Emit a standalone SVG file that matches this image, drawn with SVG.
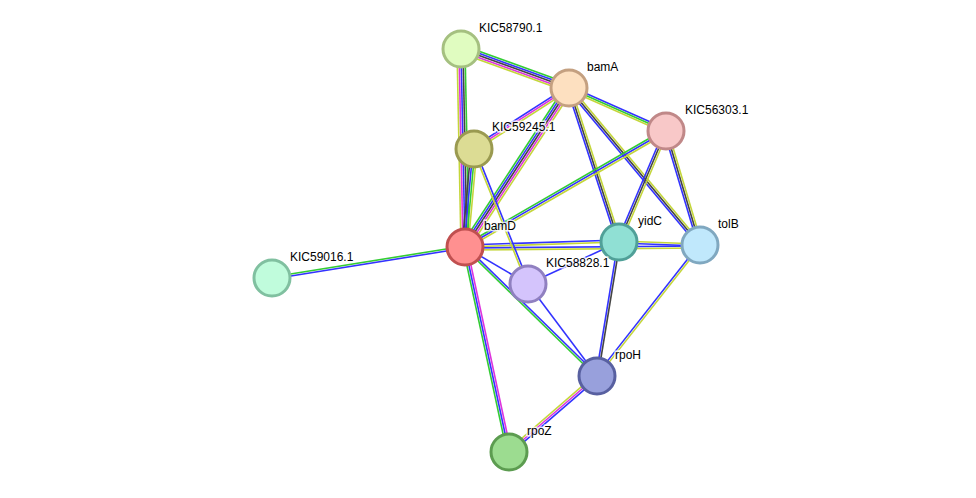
<svg xmlns="http://www.w3.org/2000/svg" width="976" height="498" viewBox="0 0 976 498">
<style>
line{stroke-width:1.6}
.g{stroke:#33cc33}.b{stroke:#3333ff}.k{stroke:#444}.m{stroke:#dd33dd}.y{stroke:#c4d63a}
circle{stroke-width:3}
text{font-family:"Liberation Sans",Arial,sans-serif;font-size:12px;fill:#000;stroke:#fff;stroke-width:3;paint-order:stroke;stroke-opacity:0.8}
</style>
<rect width="976" height="498" fill="#fff"/>
<g id="connectors">
<!-- 58790-bamA -->
<line class="g" x1="461" y1="49" x2="569" y2="88" transform="translate(1.36,-3.76)"/>
<line class="b" x1="461" y1="49" x2="569" y2="88" transform="translate(0.68,-1.88)"/>
<line class="k" x1="461" y1="49" x2="569" y2="88"/>
<line class="m" x1="461" y1="49" x2="569" y2="88" transform="translate(-0.68,1.88)"/>
<line class="y" x1="461" y1="49" x2="569" y2="88" transform="translate(-1.36,3.76)"/>
<!-- 58790-bamD -->
<line class="y" x1="461" y1="49" x2="465" y2="247" transform="translate(-4,0)"/>
<line class="m" x1="461" y1="49" x2="465" y2="247" transform="translate(-2,0)"/>
<line class="b" x1="461" y1="49" x2="465" y2="247"/>
<line class="k" x1="461" y1="49" x2="465" y2="247" transform="translate(2,0)"/>
<line class="g" x1="461" y1="49" x2="465" y2="247" transform="translate(4,0)"/>
<!-- 59245-bamA -->
<line class="b" x1="474" y1="149" x2="569" y2="88" transform="translate(-1.08,-1.68)"/>
<line class="m" x1="474" y1="149" x2="569" y2="88"/>
<line class="y" x1="474" y1="149" x2="569" y2="88" transform="translate(1.08,1.68)"/>
<!-- 59245-bamD -->
<line class="k" x1="474" y1="149" x2="465" y2="247" transform="translate(-3,0)"/>
<line class="b" x1="474" y1="149" x2="465" y2="247" transform="translate(-1,0)"/>
<line class="g" x1="474" y1="149" x2="465" y2="247" transform="translate(1,0)"/>
<line class="y" x1="474" y1="149" x2="465" y2="247" transform="translate(3,0)"/>
<!-- bamA-bamD -->
<line class="g" x1="569" y1="88" x2="465" y2="247" transform="translate(-3.36,-2.2)"/>
<line class="b" x1="569" y1="88" x2="465" y2="247" transform="translate(-1.68,-1.1)"/>
<line class="k" x1="569" y1="88" x2="465" y2="247"/>
<line class="m" x1="569" y1="88" x2="465" y2="247" transform="translate(1.68,1.1)"/>
<line class="y" x1="569" y1="88" x2="465" y2="247" transform="translate(3.36,2.2)"/>
<!-- bamA-56303 -->
<line class="b" x1="569" y1="88" x2="666" y2="131" transform="translate(0.82,-1.82)"/>
<line class="g" x1="569" y1="88" x2="666" y2="131"/>
<line class="y" x1="569" y1="88" x2="666" y2="131" transform="translate(-0.82,1.82)"/>
<!-- bamA-yidC -->
<line class="b" x1="569" y1="88" x2="619" y2="242" transform="translate(-1.9,0.62)"/>
<line class="k" x1="569" y1="88" x2="619" y2="242"/>
<line class="y" x1="569" y1="88" x2="619" y2="242" transform="translate(1.9,-0.62)"/>
<!-- bamA-tolB -->
<line class="b" x1="569" y1="88" x2="700" y2="245" transform="translate(-1.54,1.28)"/>
<line class="k" x1="569" y1="88" x2="700" y2="245"/>
<line class="y" x1="569" y1="88" x2="700" y2="245" transform="translate(1.54,-1.28)"/>
<!-- 56303-bamD -->
<line class="g" x1="666" y1="131" x2="465" y2="247" transform="translate(-1,-1.74)"/>
<line class="b" x1="666" y1="131" x2="465" y2="247"/>
<line class="y" x1="666" y1="131" x2="465" y2="247" transform="translate(1,1.74)"/>
<!-- 56303-yidC -->
<line class="b" x1="666" y1="131" x2="619" y2="242" transform="translate(-1.84,-0.78)"/>
<line class="k" x1="666" y1="131" x2="619" y2="242"/>
<line class="y" x1="666" y1="131" x2="619" y2="242" transform="translate(1.84,0.78)"/>
<!-- 56303-tolB -->
<line class="b" x1="666" y1="131" x2="700" y2="245" transform="translate(-1.92,0.58)"/>
<line class="k" x1="666" y1="131" x2="700" y2="245"/>
<line class="y" x1="666" y1="131" x2="700" y2="245" transform="translate(1.92,-0.58)"/>
<!-- bamD-yidC / tolB -->
<line class="b" x1="465" y1="247" x2="619" y2="242" transform="translate(0,-2)"/>
<line class="y" x1="465" y1="247" x2="619" y2="242"/>
<line class="b" x1="465" y1="247" x2="700" y2="245" transform="translate(0,1)"/>
<line class="y" x1="465" y1="247" x2="700" y2="245" transform="translate(0,3)"/>
<!-- yidC-tolB -->
<line class="y" x1="619" y1="242" x2="700" y2="245" transform="translate(0,-1)"/>
<line class="b" x1="619" y1="242" x2="700" y2="245" transform="translate(0,1)"/>
<!-- 59245-58828 -->
<line class="b" x1="474" y1="149" x2="528" y2="284" transform="translate(0.93,-0.37)"/>
<line class="y" x1="474" y1="149" x2="528" y2="284" transform="translate(-0.93,0.37)"/>
<!-- bamD-58828, 58828-yidC, 58828-rpoH -->
<line class="b" x1="465" y1="247" x2="528" y2="284"/>
<line class="b" x1="528" y1="284" x2="619" y2="242"/>
<line class="b" x1="528" y1="284" x2="597" y2="376"/>
<!-- bamD-rpoH -->
<line class="g" x1="465" y1="247" x2="597" y2="376" transform="translate(-0.7,0.72)"/>
<line class="b" x1="465" y1="247" x2="597" y2="376" transform="translate(0.7,-0.72)"/>
<!-- yidC-rpoH -->
<line class="b" x1="619" y1="242" x2="597" y2="376" transform="translate(-1,0)"/>
<line class="k" x1="619" y1="242" x2="597" y2="376" transform="translate(1,0)"/>
<!-- tolB-rpoH -->
<line class="b" x1="700" y1="245" x2="597" y2="376" transform="translate(-0.79,-0.62)"/>
<line class="y" x1="700" y1="245" x2="597" y2="376" transform="translate(0.79,0.62)"/>
<!-- bamD-rpoZ -->
<line class="g" x1="465" y1="247" x2="509" y2="452" transform="translate(-1.96,0.42)"/>
<line class="b" x1="465" y1="247" x2="509" y2="452"/>
<line class="m" x1="465" y1="247" x2="509" y2="452" transform="translate(1.96,-0.42)"/>
<!-- rpoH-rpoZ -->
<line class="y" x1="597" y1="376" x2="509" y2="452" transform="translate(-1.3,-1.52)"/>
<line class="m" x1="597" y1="376" x2="509" y2="452"/>
<line class="b" x1="597" y1="376" x2="509" y2="452" transform="translate(1.3,1.52)"/>
<!-- bamD-59016 -->
<line class="g" x1="465" y1="247" x2="272" y2="278" transform="translate(-0.16,-0.99)"/>
<line class="b" x1="465" y1="247" x2="272" y2="278" transform="translate(0.16,0.99)"/>
</g>
<g id="KIC58790.1"><circle cx="461" cy="49" r="18" fill="#e0fcc0" stroke="#a5c080"/><text x="479" y="32">KIC58790.1</text></g>
<g id="bamA"><circle cx="569" cy="88" r="18" fill="#fde0c0" stroke="#c4a080"/><text x="587" y="71">bamA</text></g>
<g id="KIC56303.1"><circle cx="666" cy="131" r="18" fill="#f8c8c8" stroke="#c08888"/><text x="685" y="114">KIC56303.1</text></g>
<g id="KIC59245.1"><circle cx="474" cy="149" r="18" fill="#dcdc94" stroke="#9a9a50"/><text x="492" y="131">KIC59245.1</text></g>
<g id="bamD"><circle cx="465" cy="247" r="18" fill="#ff9090" stroke="#c05050"/><text x="484" y="230">bamD</text></g>
<g id="yidC"><circle cx="619" cy="242" r="18" fill="#90e0d4" stroke="#50a098"/><text x="638" y="225">yidC</text></g>
<g id="tolB"><circle cx="700" cy="245" r="18" fill="#c0e8fc" stroke="#80a8c0"/><text x="718" y="228">tolB</text></g>
<g id="KIC59016.1"><circle cx="272" cy="278" r="18" fill="#c0fcdc" stroke="#80c0a0"/><text x="290" y="261">KIC59016.1</text></g>
<g id="KIC58828.1"><circle cx="528" cy="284" r="18" fill="#d4c4fc" stroke="#9080c0"/><text x="546" y="267">KIC58828.1</text></g>
<g id="rpoH"><circle cx="597" cy="376" r="18" fill="#98a0dc" stroke="#5860a0"/><text x="615" y="359">rpoH</text></g>
<g id="rpoZ"><circle cx="509" cy="452" r="18" fill="#9cdc90" stroke="#5c9c50"/><text x="527" y="435">rpoZ</text></g>
</svg>
